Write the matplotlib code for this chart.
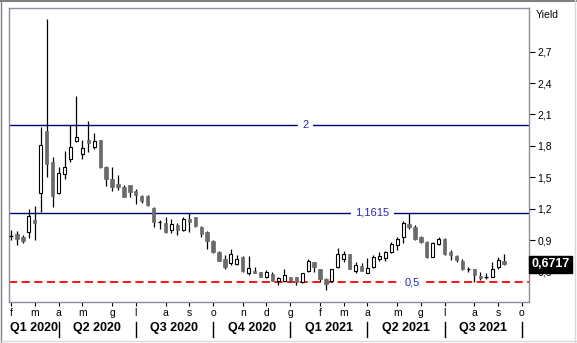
import matplotlib
matplotlib.use("Agg")
import matplotlib.pyplot as plt
import matplotlib.transforms as mtransforms
from matplotlib.lines import Line2D
from matplotlib.ticker import FuncFormatter
import pandas as pd

plt.rcParams['font.family'] = ['Liberation Sans', 'DejaVu Sans']

# weekly candles (open, high, low, close), first week ending 2020-02-07
opens = [0.944, 0.958, 0.928, 0.976, 1.093, 1.354, 1.943, 1.647, 1.354, 1.535,
         1.678, 1.850, 1.726, 1.857, 1.793, 1.857, 1.602, 1.482, 1.437, 1.411,
         1.424, 1.373, 1.322, 1.322, 1.208, 1.071, 1.068, 0.998, 1.049, 0.998,
         1.106, 1.119, 1.029, 0.979, 0.896, 0.788, 0.718, 0.680, 0.673, 0.743,
         0.585, 0.610, 0.597, 0.552, 0.578, 0.514, 0.508, 0.546, 0.546, 0.502,
         0.604, 0.693, 0.623, 0.527, 0.508, 0.642, 0.718, 0.769, 0.610, 0.654,
         0.591, 0.642, 0.724, 0.731, 0.788, 0.852, 0.934, 1.055, 1.024, 0.928,
         0.883, 0.743, 0.864, 0.915, 0.788, 0.750, 0.705, 0.623, 0.623, 0.559,
         0.546, 0.546, 0.648, 0.699]
highs = [0.998, 0.991, 0.947, 1.195, 1.227, 1.978, 3.008, 1.697, 1.596, 1.752,
         1.997, 2.276, 1.857, 2.038, 1.921, 1.857, 1.609, 1.596, 1.520, 1.424,
         1.430, 1.386, 1.335, 1.335, 1.220, 1.093, 1.125, 1.100, 1.062, 1.125,
         1.157, 1.125, 1.036, 0.991, 0.902, 0.794, 0.756, 0.814, 0.756, 0.750,
         0.750, 0.642, 0.597, 0.616, 0.597, 0.546, 0.623, 0.546, 0.552, 0.591,
         0.724, 0.693, 0.629, 0.540, 0.629, 0.826, 0.795, 0.769, 0.693, 0.686,
         0.731, 0.756, 0.788, 0.800, 0.883, 0.934, 1.087, 1.157, 1.049, 0.941,
         0.890, 0.883, 0.928, 0.922, 0.807, 0.756, 0.718, 0.648, 0.623, 0.597,
         0.584, 0.692, 0.737, 0.769]
lows = [0.902, 0.852, 0.877, 0.922, 0.902, 1.170, 1.506, 1.220, 1.341, 1.487,
        1.650, 1.840, 1.678, 1.745, 1.774, 1.587, 1.418, 1.373, 1.380, 1.310,
        1.316, 1.246, 1.253, 1.227, 1.029, 1.010, 0.966, 0.966, 0.953, 0.985,
        0.979, 1.029, 0.928, 0.819, 0.781, 0.699, 0.629, 0.667, 0.667, 0.597,
        0.566, 0.585, 0.552, 0.540, 0.508, 0.470, 0.502, 0.502, 0.470, 0.495,
        0.597, 0.597, 0.502, 0.425, 0.502, 0.635, 0.693, 0.623, 0.591, 0.604,
        0.591, 0.635, 0.699, 0.705, 0.781, 0.807, 0.877, 1.005, 0.902, 0.871,
        0.731, 0.737, 0.852, 0.762, 0.711, 0.693, 0.616, 0.597, 0.502, 0.521,
        0.533, 0.546, 0.629, 0.667]
closes = [0.944, 0.914, 0.896, 1.131, 1.067, 1.809, 1.631, 1.325, 1.539, 1.602,
          1.790, 1.885, 1.783, 1.828, 1.850, 1.596, 1.487, 1.411, 1.405, 1.316,
          1.361, 1.329, 1.277, 1.234, 1.074, 1.071, 0.979, 1.055, 0.998, 1.106,
          1.074, 1.036, 0.960, 0.896, 0.788, 0.705, 0.648, 0.769, 0.718, 0.604,
          0.635, 0.591, 0.552, 0.597, 0.514, 0.540, 0.566, 0.514, 0.502, 0.585,
          0.705, 0.642, 0.533, 0.483, 0.623, 0.769, 0.769, 0.629, 0.667, 0.610,
          0.635, 0.743, 0.750, 0.788, 0.864, 0.915, 1.068, 1.029, 0.909, 0.883,
          0.737, 0.871, 0.915, 0.769, 0.762, 0.711, 0.623, 0.623, 0.571, 0.540,
          0.546, 0.629, 0.712, 0.6717]

# reference levels
levels = [2.0, 1.1615]
level_labels = ['2', '1,1615']
support = 0.5
support_label = '0,5'

month_letters = ['g', 'f', 'm', 'a', 'm', 'g', 'l', 'a', 's', 'o', 'n', 'd']
y_ticks = [0.6, 0.9, 1.2, 1.5, 1.8, 2.1, 2.4, 2.7]

# weekly axis (a few empty weeks at the right)
weeks = pd.date_range('2020-02-07', periods=88, freq='W-FRI')

fig = plt.figure(figsize=(5.77, 3.43), dpi=100)
ax = fig.add_axes([9.3 / 577, 1 - 302 / 343, (529 - 9.3) / 577, (302 - 8) / 343])

# candles
for i in range(len(closes)):
    o, h, l, c = opens[i], highs[i], lows[i], closes[i]
    ax.vlines(i, l, h, color='black', lw=0.9, zorder=2)
    if abs(c - o) < 0.004:
        ax.hlines(c, i - 0.3, i + 0.3, color='black', lw=0.9, zorder=3)
    elif c > o:
        ax.bar(i, c - o, bottom=o, width=0.5, color='white', edgecolor='black', lw=0.8, zorder=3)
    else:
        ax.bar(i, o - c, bottom=c, width=0.55, color='#6b6b6b', edgecolor='#6b6b6b', lw=0.5, zorder=3)

# horizontal levels
ytrans = mtransforms.blended_transform_factory(ax.transAxes, ax.transData)
for lev, lab, xf in zip(levels, level_labels, [0.570, 0.698]):
    ax.axhline(lev, color='#000070', lw=1.0, zorder=1)
    ax.text(xf, lev, lab, transform=ytrans, ha='center', va='center', fontsize=8,
            color='#2828b0', zorder=4, bbox=dict(boxstyle='square,pad=0.4', fc='white', ec='none'))

ax.axhline(support, color='#ff0000', lw=1.3, dashes=(4.5, 2.5), zorder=1)
ax.text(0.776, support, support_label, transform=ytrans, ha='center', va='center', fontsize=8,
        color='#2828b0', zorder=4, bbox=dict(boxstyle='square,pad=0.4', fc='white', ec='none'))

ax.set_xlim(-0.3, 87.2)
ax.set_ylim(0.311, 3.116)

# month ticks: first week of each month
month_pos = []
month_lab = []
quarter_pos = []
for i in range(len(weeks)):
    if i == 0 or weeks[i].month != weeks[i - 1].month:
        month_pos.append(i)
        month_lab.append(month_letters[weeks[i].month - 1])
        if i > 0 and weeks[i].month in (1, 4, 7, 10):
            quarter_pos.append(i)
ax.set_xticks(month_pos)
ax.set_xticklabels(month_lab, fontsize=7.5)
ax.tick_params(axis='x', length=3, width=0.8, pad=1, direction='out')

# quarter labels and separators
trans = mtransforms.blended_transform_factory(ax.transData, ax.transAxes)
edges = [-0.3] + quarter_pos
for k in range(len(edges) - 1):
    q = (weeks[edges[k + 1] - 1].month - 1) // 3 + 1
    yr = weeks[edges[k + 1] - 1].year
    ax.text((edges[k] + edges[k + 1]) / 2, -0.088, 'Q%d %d' % (q, yr), transform=trans,
            ha='center', va='center', fontsize=9, fontweight='bold', clip_on=False)
for p in quarter_pos:
    ax.add_line(Line2D([p, p], [-0.067, -0.118], transform=trans, color='black', lw=1.0, clip_on=False))

# right y axis
ax.yaxis.tick_right()
ax.set_yticks(y_ticks)
ax.yaxis.set_major_formatter(FuncFormatter(lambda v, p: ('%.1f' % v).replace('.', ',')))
ax.tick_params(axis='y', length=4, width=0.8, pad=2, labelsize=7.5)

for s in ax.spines.values():
    s.set_color('#8c8c9c')
    s.set_linewidth(1.0)

ax.text(1.013, 0.975, 'Yield', transform=ax.transAxes, ha='left', va='center', fontsize=7.5)

# last value box
ax.text(1.004, closes[-1], ('%.4f' % closes[-1]).replace('.', ','), transform=ytrans,
        ha='left', va='center', fontsize=9, fontweight='bold', color='white', zorder=10, clip_on=False,
        bbox=dict(boxstyle='square,pad=0.2', fc='black', ec='black'))

# window frame
fig.add_artist(Line2D([0, 1], [0.997, 0.997], transform=fig.transFigure, color='#808080', lw=1.5))
fig.add_artist(Line2D([0.001, 0.001], [0, 1], transform=fig.transFigure, color='#808080', lw=1.0))
fig.add_artist(Line2D([574.5 / 577, 574.5 / 577], [0, 1], transform=fig.transFigure, color='#d8d8d8', lw=1.0))
fig.add_artist(Line2D([0, 1], [2.5 / 343, 2.5 / 343], transform=fig.transFigure, color='#d8d8d8', lw=1.0))

fig.savefig('out.png', dpi=100)
